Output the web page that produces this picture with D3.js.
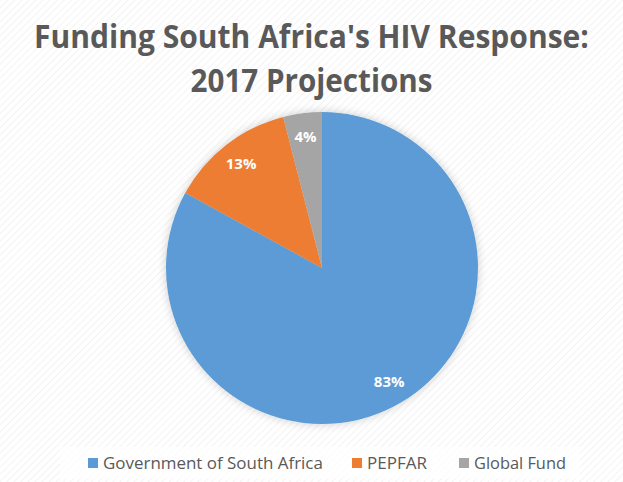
<html>
<head>
 <meta charset="UTF-8">
 <script src="https://cdn.jsdelivr.net/npm/d3@7"></script>
 <style>
body { margin: 0; background: #fff; }
svg { display: block; }
.title { font-family: "Open Sans", sans-serif; font-weight: bold; fill: #595959; }
.lbl { font-family: "Open Sans", sans-serif; font-weight: bold; fill: #fff; font-size: 15px; }
.leg { font-family: "Open Sans", sans-serif; fill: #595959; font-size: 16px; }
 </style>
</head>
<body>
<svg id="chart"></svg>
<script>
var categories = ["Government of South Africa", "PEPFAR", "Global Fund"];
var shares = [83, 13, 4];
var colors = ["#5B9BD5", "#ED7D31", "#A5A5A5"];
var titleLines = ["Funding South Africa's HIV Response:", "2017 Projections"];

var width = 623, height = 482,
  cx = 322, cy = 268, radius = 156;

var svg = d3.select("#chart").attr("width", width).attr("height", height);
var defs = svg.append("defs");

// faint diagonal hatch like the office chart style
var pat = defs.append("pattern")
  .attr("id", "hatch")
  .attr("patternUnits", "userSpaceOnUse")
  .attr("width", 5).attr("height", 5)
  .attr("patternTransform", "rotate(45)");
pat.append("rect").attr("width", 5).attr("height", 5).attr("fill", "#fff");
pat.append("line").attr("x1", 0).attr("y1", 0).attr("x2", 0).attr("y2", 5)
  .attr("stroke", "#f3f3f3").attr("stroke-width", 2);

var shadow = defs.append("filter").attr("id", "shadow")
  .attr("x", "-20%").attr("y", "-20%").attr("width", "140%").attr("height", "140%");
shadow.append("feGaussianBlur").attr("in", "SourceAlpha").attr("stdDeviation", 5);
shadow.append("feComponentTransfer").append("feFuncA").attr("type", "linear").attr("slope", 0.2);
var merge = shadow.append("feMerge");
merge.append("feMergeNode");
merge.append("feMergeNode").attr("in", "SourceGraphic");

svg.append("rect").attr("width", width).attr("height", height).attr("fill", "url(#hatch)");
svg.append("rect").attr("x", 60).attr("y", 447).attr("width", 520).attr("height", 32).attr("fill", "#fff").attr("opacity", 0.7);

// fit a text horizontally to a target width (Calibri-like proportions)
function squeeze(sel, target, x, y, anchor) {
  var w = sel.node().getComputedTextLength();
  var k = target / w;
  sel.attr("x", 0).attr("y", 0).attr("text-anchor", anchor)
    .attr("transform", "translate(" + x + "," + y + ") scale(" + k + ",1)");
}

// title
var titleSizes = [555, 242];
titleLines.forEach(function(t, i){
  var tx = svg.append("text")
    .attr("class", "title")
    .attr("font-size", "33px")
    .text(t);
  squeeze(tx, titleSizes[i], width/2, 48 + i*44, "middle");
});

var data = categories.map(function(c, i){ return {name: c, value: shares[i], color: colors[i]}; });
var pie = d3.pie().sort(null).value(function(d){ return d.value; });
var arc = d3.arc().innerRadius(0).outerRadius(radius);
var labelArc = d3.arc().innerRadius(132).outerRadius(132);

var g = svg.append("g").attr("transform", "translate(" + cx + "," + cy + ")");
g.append("g").attr("filter", "url(#shadow)")
  .selectAll("path")
  .data(pie(data))
  .enter().append("path")
  .attr("d", arc)
  .attr("fill", function(d){ return d.data.color; });

g.selectAll(".lbl")
  .data(pie(data))
  .enter().append("text")
  .attr("class", "lbl")
  .attr("transform", function(d){ return "translate(" + labelArc.centroid(d) + ")"; })
  .attr("text-anchor", "middle")
  .attr("dy", "0.35em")
  .text(function(d){ return d.data.value + "%"; });

// legend
var legX = [88, 352, 459], legW = [220, 60, 92];
var leg = svg.selectAll(".legitem")
  .data(data)
  .enter().append("g")
  .attr("class", "legitem")
  .attr("transform", function(d, i){ return "translate(" + legX[i] + ",463)"; });
leg.append("rect").attr("x", 0).attr("y", -5).attr("width", 10).attr("height", 10)
  .attr("fill", function(d){ return d.color; });
leg.append("text").attr("class", "leg")
  .attr("dy", "0.35em")
  .text(function(d){ return d.name; })
  .each(function(d, i){ squeeze(d3.select(this), legW[i], 15, 0, "start"); });
</script>
</body>
</html>
